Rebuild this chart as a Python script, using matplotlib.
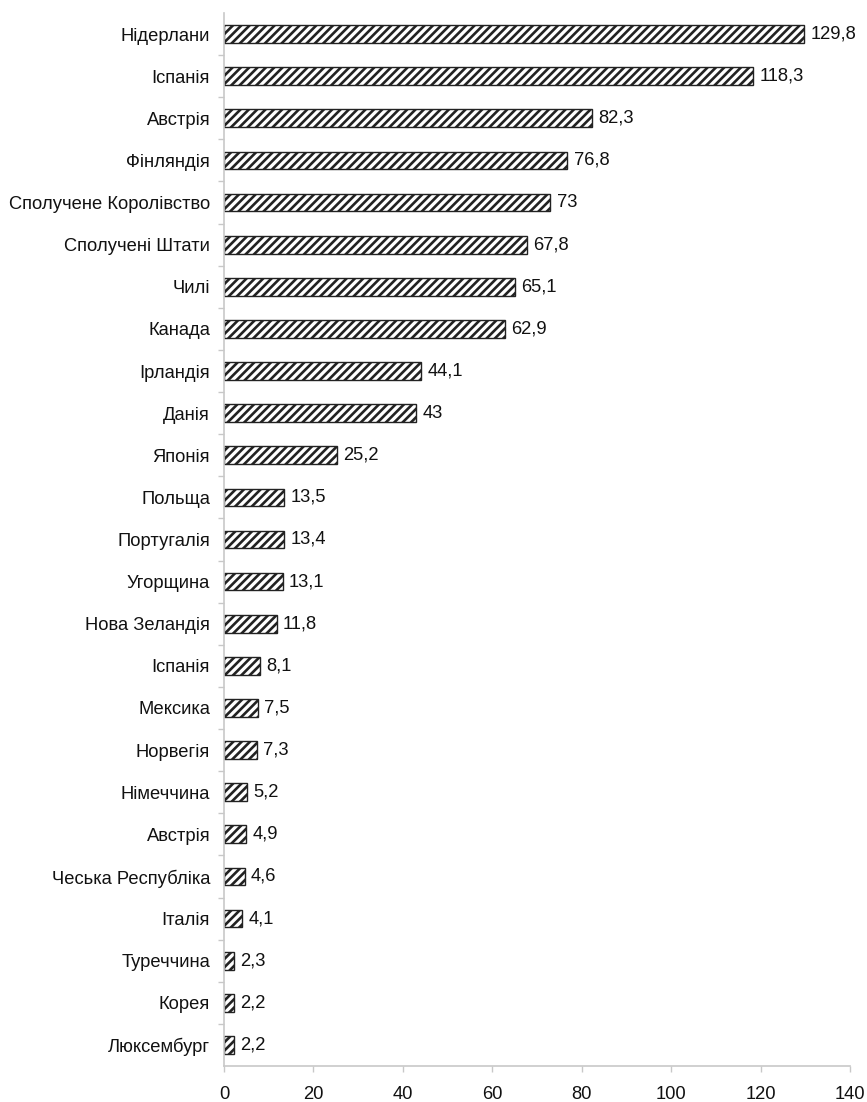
import matplotlib
matplotlib.use("Agg")
import matplotlib.pyplot as plt

# Data (top to bottom)
countries = ['Нідерлани', 'Іспанія', 'Австрія', 'Фінляндія', 'Сполучене Королівство',
             'Сполучені Штати', 'Чилі', 'Канада', 'Ірландія', 'Данія', 'Японія',
             'Польща', 'Португалія', 'Угорщина', 'Нова Зеландія', 'Іспанія',
             'Мексика', 'Норвегія', 'Німеччина', 'Австрія', 'Чеська Республіка',
             'Італія', 'Туреччина', 'Корея', 'Люксембург']
values = [129.8, 118.3, 82.3, 76.8, 73, 67.8, 65.1, 62.9, 44.1, 43, 25.2,
          13.5, 13.4, 13.1, 11.8, 8.1, 7.5, 7.3, 5.2, 4.9, 4.6,
          4.1, 2.3, 2.2, 2.2]
x_ticks = [0, 20, 40, 60, 80, 100, 120, 140]

plt.rcParams['font.family'] = ['Liberation Sans', 'DejaVu Sans']
plt.rcParams['hatch.linewidth'] = 1.9
plt.rcParams['hatch.color'] = 'black'

DPI = 100
FS = 13.2
fig = plt.figure(figsize=(867 / DPI, 1102 / DPI), dpi=DPI)
ax = fig.add_axes([224 / 867, 1 - 1066 / 1102, 626 / 867, 1053 / 1102])

pos = list(range(len(countries)))
bars = ax.barh(pos, values, height=0.42, color='white', edgecolor='#222222',
               linewidth=1.0, hatch='////')

labels = [f"{v:g}".replace('.', ',') for v in values]
ax.bar_label(bars, labels=labels, padding=4.5, fontsize=FS, color='#111111')

ax.set_ylim(len(countries) - 0.5, -0.5)
ax.set_xlim(0, 140)
ax.set_xticks(x_ticks)
ax.set_yticks(pos)
ax.set_yticklabels(countries)
ax.set_yticks([p + 0.5 for p in pos[:-1]], minor=True)

ax.tick_params(axis='y', which='major', length=0, pad=10, labelsize=FS, labelcolor='#111111')
ax.tick_params(axis='y', which='minor', length=4.3, color='#c8c8c8', width=1)
ax.tick_params(axis='x', length=4.3, color='#c8c8c8', width=1, pad=10, labelsize=FS,
               labelcolor='#111111')

for side in ['top', 'right']:
    ax.spines[side].set_visible(False)
for side in ['left', 'bottom']:
    ax.spines[side].set_color('#c8c8c8')
    ax.spines[side].set_linewidth(1.2)

fig.savefig('out.png', dpi=DPI)
